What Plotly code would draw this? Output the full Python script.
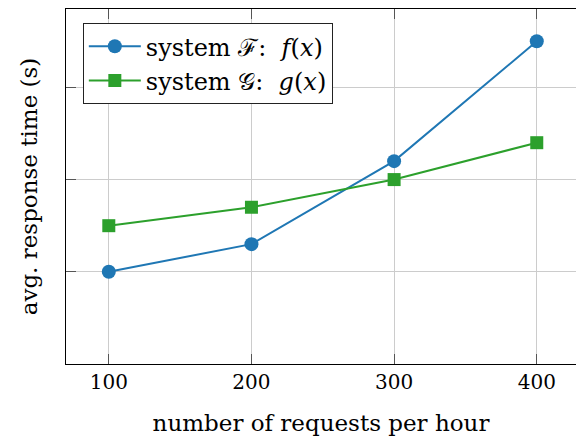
import plotly.graph_objects as go

# request rate (per hour) and measured average response times (s)
requests_per_hour = [100, 200, 300, 400]
time_f = [1.0, 1.3, 2.2, 3.5]
time_g = [1.5, 1.7, 2.0, 2.4]
x_ticks = [100, 200, 300, 400]
y_grid = [1, 2, 3]

SERIF = "DejaVu Serif, Liberation Serif, serif"

fig = go.Figure()
fig.add_trace(go.Scatter(
    x=requests_per_hour, y=time_f, mode="lines+markers",
    name="system \u2131:  <i>f</i>(<i>x</i>)",
    line=dict(color="#1f77b4", width=2),
    marker=dict(symbol="circle", size=14, color="#1f77b4"),
))
fig.add_trace(go.Scatter(
    x=requests_per_hour, y=time_g, mode="lines+markers",
    name="system \U0001D4A2:  <i>g</i>(<i>x</i>)",
    line=dict(color="#2ca02c", width=2),
    marker=dict(symbol="square", size=13, color="#2ca02c"),
))

fig.update_layout(
    width=576, height=438,
    margin=dict(l=66, r=0, t=9, b=74),
    plot_bgcolor="white", paper_bgcolor="white",
    font=dict(family=SERIF, size=20, color="black"),
    showlegend=True,
    legend=dict(
        x=0.033, y=0.96, xanchor="left", yanchor="top",
        bgcolor="white", bordercolor="#222222", borderwidth=1,
        font=dict(family=SERIF, size=24),
        itemwidth=52, tracegroupgap=0,
    ),
    xaxis=dict(
        range=[70, 427.5], tickvals=x_ticks,
        showgrid=True, gridcolor="#cccccc", gridwidth=1,
        showline=True, linecolor="black", linewidth=1, mirror="ticks",
        ticks="inside", ticklen=10, tickcolor="#555555",
        zeroline=False,
        title=dict(text="number of requests per hour", standoff=21,
                   font=dict(family=SERIF, size=23)),
        tickfont=dict(family=SERIF, size=20),
    ),
    yaxis=dict(
        range=[0, 3.85], tickvals=y_grid, showticklabels=False,
        showgrid=True, gridcolor="#cccccc", gridwidth=1,
        showline=True, linecolor="black", linewidth=1,
        ticks="inside", ticklen=10, tickcolor="#555555",
        zeroline=False,
        title=dict(text="avg. response time (s)", standoff=20,
                   font=dict(family=SERIF, size=23)),
    ),
)

fig.write_html("out.html")
